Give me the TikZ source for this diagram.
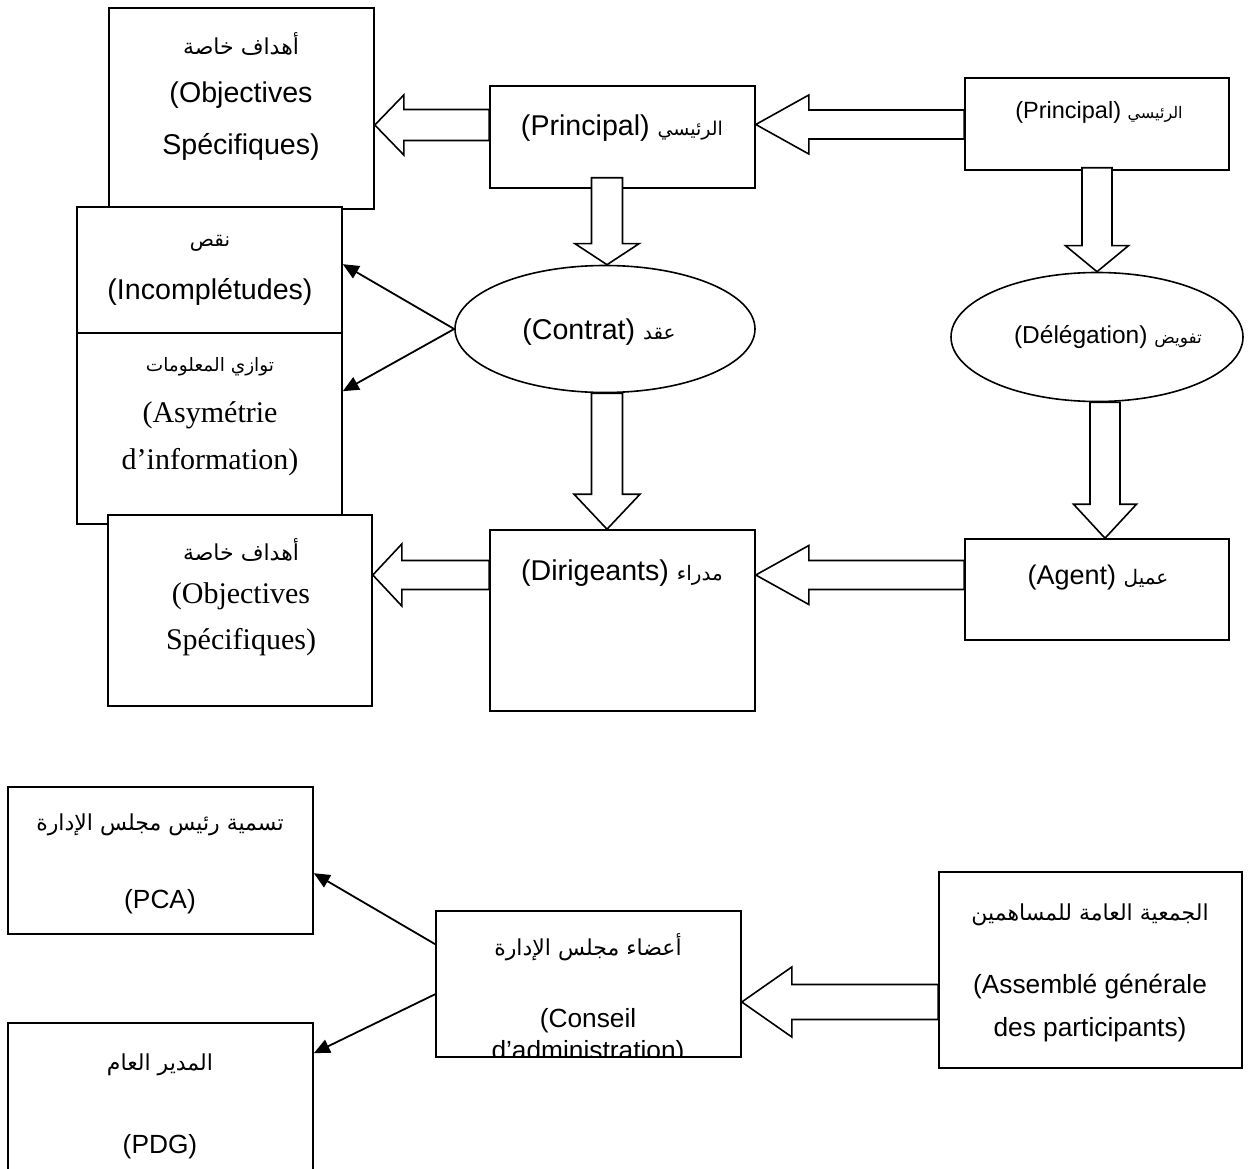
\documentclass[tikz,border=0pt]{standalone}
\usepackage{fontspec}
\setmainfont{Liberation Sans}
\newfontfamily\serifT{Liberation Serif}
\newfontfamily\arabicfont[Script=Arabic]{DejaVu Sans}
\TeXXeTstate=1
\usetikzlibrary{shapes.geometric,arrows.meta,calc}
\newcommand\AR[1]{{\arabicfont\beginR #1\endR}}
\newcommand\fs[1]{\fontsize{#1}{#1}\selectfont}
\newcommand\mkbox[5]{\node[box, minimum width={#4-#2}, minimum height={#5-#3}] (#1) at ({(#2+#4)/2},{-(#3+#5)/2}) {};}
% leftward hollow arrow: tip node, tail node, y, head length, head half width, shaft half width
\newcommand\hleft[6]{\draw[hollow] let \p1=(#1.east), \p2=(#2.west) in
  (\x1,#3) -- (\x1+#4,#3+#5) -- (\x1+#4,#3+#6) -- (\x2,#3+#6) -- (\x2,#3-#6) -- (\x1+#4,#3-#6) -- (\x1+#4,#3-#5) -- cycle;}
% downward hollow arrow: tail node, tip node, x, head length, head half width, shaft half width, overlap
\newcommand\hdown[7]{\draw[hollow] let \p1=(#1.south), \p2=(#2.north) in
  (#3,\y2) -- (#3+#5,\y2+#4) -- (#3+#6,\y2+#4) -- (#3+#6,\y1+#7) -- (#3-#6,\y1+#7) -- (#3-#6,\y2+#4) -- (#3-#5,\y2+#4) -- cycle;}
\tikzset{
  box/.style={draw, line width=1.6pt, fill=white, inner sep=0pt},
  oval/.style={draw, ellipse, line width=1.6pt, fill=white, inner sep=0pt},
  txt/.style={inner sep=0pt, anchor=center},
  hollow/.style={draw, line width=1.6pt, fill=white, line join=miter},
  thinarrow/.style={line width=1.8pt, -{Triangle[length=16pt,width=14pt]}},
}
\begin{document}
\begin{tikzpicture}[x=1pt,y=1pt]
\useasboundingbox (0,0) rectangle (1251,-1169);
% ---------- top diagram boxes
\mkbox{A}{109}{8}{374}{209}
\mkbox{D}{77}{207}{342}{524}
\mkbox{E}{108}{515}{372}{706}
\mkbox{B}{490}{86}{755}{188}
\mkbox{C}{965}{78}{1229}{170}
\mkbox{F}{490}{530}{755}{711}
\mkbox{G}{965}{539}{1229}{640}
\draw[line width=1.6pt] ($(D.north west)+(0,-127)$) -- ($(D.north east)+(0,-127)$);
\node[oval, minimum width=300, minimum height=127] (Con) at (605,-329) {};
\node[oval, minimum width=292, minimum height=129] (Del) at (1097,-337) {};
% texts
\node[txt] (a1) at (241,-44) {\fs{22}\AR{أهداف خاصة}};
\node[txt] (a2) at (241,-95) {\fs{28.6}(Objectives};
\node[txt] (a3) at (241,-147) {\fs{28.6}Spécifiques)};
\node[txt] (b1) at (622,-128) {\fs{28.6}(Principal) \fs{19}\AR{الرئيسي}};
\node[txt] (c1) at (1099,-112) {\fs{23.5}(Principal) \fs{16}\AR{الرئيسي}};
\node[txt] (d1) at (210,-243) {\fs{20}\AR{نقص}};
\node[txt] (d2) at (210,-292) {\fs{28.6}(Incomplétudes)};
\node[txt] (d3) at (210,-367) {\fs{18.5}\AR{توازي المعلومات}};
\node[txt] (d4) at (210,-415) {\fs{30}\serifT(Asymétrie};
\node[txt] (d5) at (210,-462) {\fs{30}\serifT d’information)};
\node[txt] (e1) at (241,-550) {\fs{22}\AR{أهداف خاصة}};
\node[txt] (e2) at (241,-596) {\fs{30}\serifT(Objectives};
\node[txt] (e3) at (241,-642) {\fs{30}\serifT Spécifiques)};
\node[txt] (con1) at (599,-332) {\fs{28.6}(Contrat) \fs{20}\AR{عقد}};
\node[txt] (del1) at (1108,-337) {\fs{24.5}(Délégation) \fs{17}\AR{تفويض}};
\node[txt] (f1) at (622,-573) {\fs{28.6}(Dirigeants) \fs{20}\AR{مدراء}};
\node[txt] (g1) at (1098,-578) {\fs{27}(Agent) \fs{20}\AR{عميل}};
% hollow arrows
\hleft{A}{B}{-125}{29}{30}{15.5}
\hleft{B}{C}{-124.5}{53}{29.5}{14.5}
\hleft{E}{F}{-575}{29}{31}{14.5}
\hleft{F}{G}{-575}{53}{29.5}{14.5}
\hdown{B}{Con}{607}{21}{32}{15.5}{11}
\hdown{C}{Del}{1097}{26}{31.5}{15}{3}
\hdown{Con}{F}{607}{35}{33}{15.5}{0}
\hdown{Del}{G}{1105}{34}{31.5}{15}{0}
% thin arrows
\draw[thinarrow] (Con.west) -- ($(D.north east)+(0,-58)$);
\draw[thinarrow] (Con.west) -- ($(D.north east)+(0,-185)$);
% ---------- bottom diagram
\mkbox{H}{8}{787}{313}{934}
\mkbox{I}{8}{1023}{313}{1172}
\mkbox{J}{436}{911}{741}{1057}
\mkbox{K}{939}{872}{1242}{1068}
\node[txt] (h1) at (160,-825) {\fs{22}\AR{تسمية رئيس مجلس الإدارة}};
\node[txt] (h2) at (160,-902) {\fs{26.3}(PCA)};
\node[txt] (i1) at (160,-1065) {\fs{22}\AR{المدير العام}};
\node[txt] (i2) at (160,-1147) {\fs{26.3}(PDG)};
\node[txt] (j1) at (588,-947) {\fs{22}\AR{أعضاء مجلس الإدارة}};
\node[txt] (j2) at (588,-1021) {\fs{26.3}(Conseil};
\begin{scope}
\clip ($(J.south west)+(1,1)$) rectangle ($(J.north east)+(-1,-1)$);
\node[txt] (j3) at (588,-1053) {\fs{26.3}d’administration)};
\end{scope}
\node[txt] (k1) at (1090,-915) {\fs{22}\AR{الجمعية العامة للمساهمين}};
\node[txt] (k2) at (1090,-987) {\fs{26.3}(Assemblé générale};
\node[txt] (k3) at (1090,-1030) {\fs{26.3}des participants)};
\hleft{J}{K}{-1002}{50}{35}{17.5}
\draw[thinarrow] ($(J.north west)+(0,-34)$) -- ($(H.north east)+(0,-87)$);
\draw[thinarrow] ($(J.north west)+(0,-84)$) -- ($(I.north east)+(0,-31)$);
\end{tikzpicture}
\end{document}
